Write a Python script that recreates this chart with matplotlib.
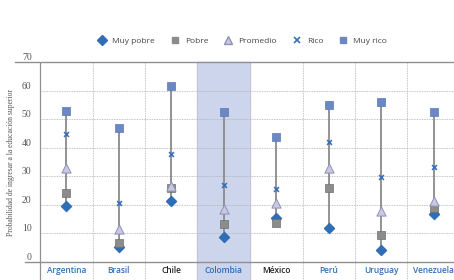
import matplotlib
matplotlib.use("Agg")
from matplotlib import pyplot as plt
from matplotlib.lines import Line2D

paises = ["Argentina", "Brasil", "Chile", "Colombia", "México", "Perú", "Uruguay", "Venezuela"]
muy_pobre = [19.7, 5.1, 21.4, 8.7, 15.5, 12.0, 4.3, 16.8]
pobre = [24.0, 6.5, 26.0, 13.3, 13.8, 26.0, 9.5, 18.9]
promedio = [33.0, 11.4, 26.5, 18.5, 20.6, 33.0, 17.7, 21.5]
rico = [44.7, 20.8, 37.7, 27.0, 25.4, 42.0, 29.9, 33.4]
muy_rico = [52.9, 46.8, 61.6, 52.6, 43.9, 55.0, 56.0, 52.6]
colores_etiqueta = ["#2f6db5", "#2f6db5", "#222222", "#2f6db5", "#222222", "#2f6db5", "#2f6db5", "#2f6db5"]
yticks = [0, 10, 20, 30, 40, 50, 60, 70]

plt.rcParams['font.family'] = ['Open Sans', 'DejaVu Sans']

fig = plt.figure(figsize=(4.54, 2.80), dpi=100)
ax = fig.add_axes([40/454, 18/280, 420/454, 200/280])

x = list(range(len(paises)))
ax.set_xlim(-0.5, 7.5)
ax.set_ylim(0, 70)

# columna destacada
ax.axvspan(2.5, 3.5, ymin=-0.09, ymax=1.0, color="#ccd5ec", clip_on=False, zorder=0)

# rejilla
for t in yticks[1:-1]:
    ax.axhline(t, color="#b0b0b0", lw=0.6, ls=(0, (1, 1)), zorder=1)
ax.plot([-0.98, 7.5], [70, 70], color="#909090", lw=1.0, clip_on=False, zorder=1)
ax.plot([-0.78, 7.5], [0, 0], color="#909090", lw=1.0, clip_on=False, zorder=1)
for i in range(1, len(paises)):
    ax.vlines(i - 0.5, -6.3, 70, color="#b0b0b0", lw=0.6, linestyles=(0, (1, 1)), clip_on=False, zorder=1)
ax.vlines(-0.5, -6.3, 70, color="#909090", lw=0.9, clip_on=False, zorder=1)

for s in ax.spines.values():
    s.set_visible(False)

# rangos
for i in x:
    lo = min(muy_pobre[i], pobre[i], promedio[i], rico[i], muy_rico[i])
    hi = max(muy_pobre[i], pobre[i], promedio[i], rico[i], muy_rico[i])
    ax.plot([i, i], [lo, hi], color="#8a8a8a", lw=1.3, zorder=2)

ax.scatter(x, muy_pobre, marker="D", s=26, color="#2f6db5", zorder=3)
ax.scatter(x, pobre, marker="s", s=32, color="#8c8c8c", edgecolor="#6f6f6f", lw=0.5, zorder=3)
ax.scatter(x, promedio, marker="^", s=44, color="#c8c8e0", edgecolor="#9090b8", lw=0.7, zorder=4)
ax.scatter(x, rico, marker="x", s=12, color="#3a70b8", lw=1.2, zorder=4)
ax.scatter(x, muy_rico, marker="s", s=32, color="#6b88c4", edgecolor="#5a78b4", lw=0.5, zorder=3)

ax.set_yticks(yticks)
ax.set_yticklabels([str(t) for t in yticks], fontsize=7, color="#555555", va="bottom",
                   family="Liberation Serif")
ax.tick_params(axis="y", length=0, pad=6)
ax.set_xticks(x)
ax.set_xticklabels(paises, fontsize=6)
ax.tick_params(axis="x", length=0, pad=3)
for lbl, c in zip(ax.get_xticklabels(), colores_etiqueta):
    lbl.set_color(c)
    lbl.set_fontweight("semibold")

ax.set_ylabel("Probabilidad de ingresar a la educación superior", fontsize=5.5, color="#555555",
              labelpad=5, family="Liberation Serif")

handles = [
    Line2D([], [], ls="", marker="D", ms=5, color="#2f6db5"),
    Line2D([], [], ls="", marker="s", ms=5, color="#8c8c8c"),
    Line2D([], [], ls="", marker="^", ms=6, markerfacecolor="#c8c8e0", markeredgecolor="#9090b8"),
    Line2D([], [], ls="", marker="x", ms=4, color="#3a70b8", mew=1.2),
    Line2D([], [], ls="", marker="s", ms=5, color="#6b88c4"),
]
fig.legend(handles, ["Muy pobre", "Pobre", "Promedio", "Rico", "Muy rico"], loc="center",
           bbox_to_anchor=(0.53, 0.855), ncol=5, frameon=False, fontsize=6,
           handletextpad=0.2, columnspacing=1.4, labelcolor="#444444")

fig.savefig("out.png", dpi=100)
